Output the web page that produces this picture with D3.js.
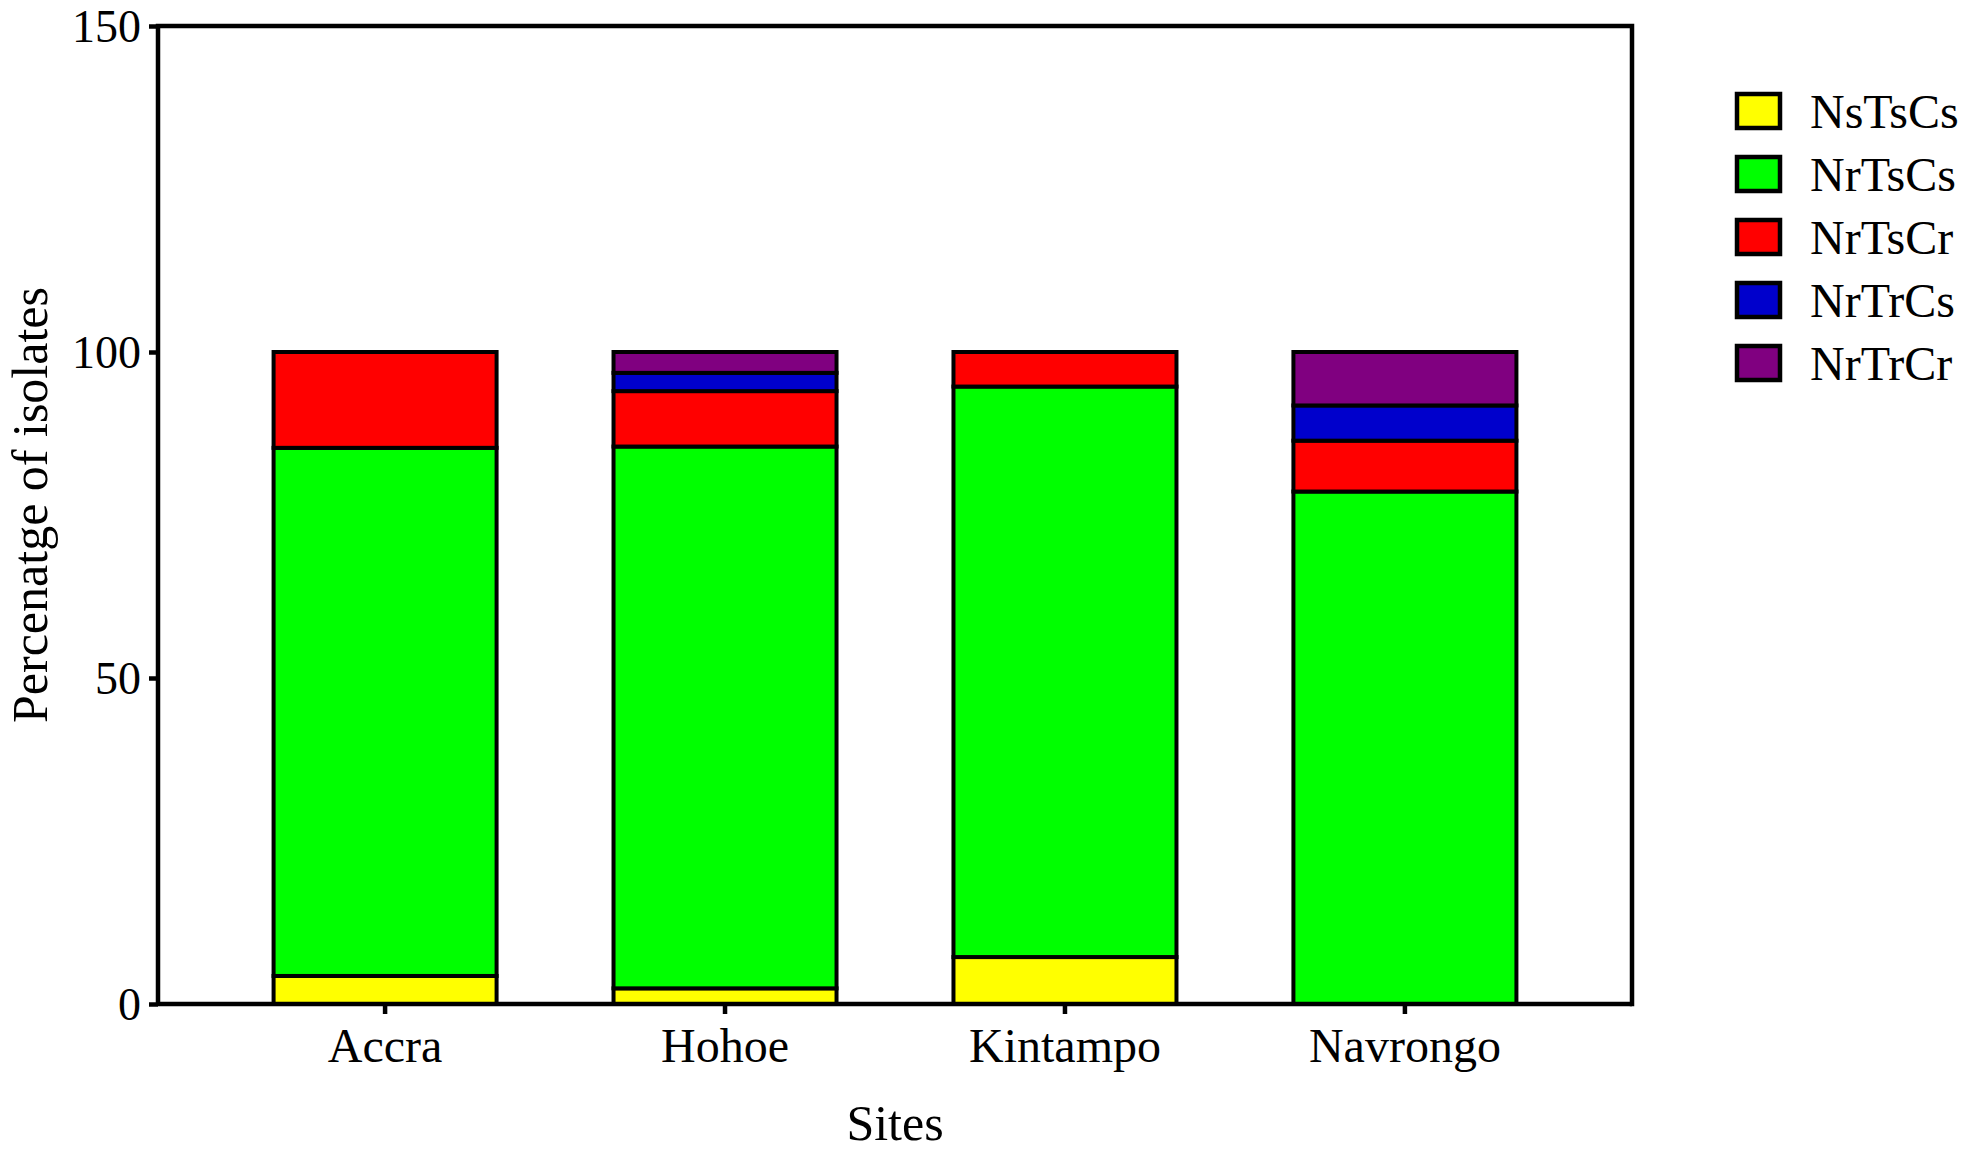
<!DOCTYPE html>
<html>
<head>
<meta charset="utf-8">
<script src="https://cdn.jsdelivr.net/npm/d3@7"></script>
<style>
  html, body { margin: 0; padding: 0; background: #fff; }
  svg { display: block; }
  text { font-family: "Liberation Serif", "Times New Roman", serif; fill: #000; }
</style>
</head>
<body>
<svg id="chart" width="1969" height="1154"></svg>
<script>
const sites = ["Accra", "Hohoe", "Kintampo", "Navrongo"];
const seriesNames = ["NsTsCs", "NrTsCs", "NrTsCr", "NrTrCs", "NrTrCr"];
const NsTsCs = [4.3, 2.4, 7.2, 0];
const NrTsCs = [81.0, 83.1, 87.5, 78.6];
const NrTsCr = [14.7, 8.5, 5.3, 7.8];
const NrTrCs = [0, 2.8, 0, 5.4];
const NrTrCr = [0, 3.2, 0, 8.2];
const colors = ["#ffff00", "#00ff00", "#ff0000", "#0000cc", "#800080"];
const yTicks = [0, 50, 100, 150];

const seriesValues = [NsTsCs, NrTsCs, NrTsCr, NrTrCs, NrTrCr];
const table = sites.map((s, i) => {
  const row = { site: s };
  seriesNames.forEach((n, k) => row[n] = seriesValues[k][i]);
  return row;
});

const svg = d3.select("#chart");
const m = { left: 158, right: 1632, top: 26, bottom: 1004 };

const x = d3.scaleBand().domain(sites).range([m.left, m.right])
  .paddingInner(0.344).paddingOuter(0.34);
const y = d3.scaleLinear().domain([0, 150]).range([m.bottom, m.top]);
const color = d3.scaleOrdinal().domain(seriesNames).range(colors);

const stack = d3.stack().keys(seriesNames)(table);

// bars
const g = svg.append("g");
stack.forEach(layer => {
  g.append("g").selectAll("rect")
    .data(layer.filter(d => d[1] - d[0] > 0))
    .join("rect")
    .attr("x", d => x(d.data.site))
    .attr("width", x.bandwidth())
    .attr("y", d => y(d[1]))
    .attr("height", d => y(d[0]) - y(d[1]))
    .attr("fill", color(layer.key))
    .attr("stroke", "#000")
    .attr("stroke-width", 4);
});

// frame (top and right)
svg.append("path")
  .attr("d", `M${m.left},${m.top}H${m.right}V${m.bottom}`)
  .attr("fill", "none").attr("stroke", "#000").attr("stroke-width", 4.5)
  .attr("stroke-linecap", "square");

// y axis
const yAxis = svg.append("g")
  .attr("transform", `translate(${m.left},0)`)
  .call(d3.axisLeft(y).tickValues(yTicks).tickSize(9).tickPadding(8).tickFormat(d3.format("d")));
yAxis.select(".domain").attr("stroke-width", 4.5).attr("d", `M0,${m.top}V${m.bottom}`);
yAxis.selectAll(".tick line").attr("stroke-width", 4.5);
yAxis.selectAll(".tick text").attr("font-size", 46)
  .attr("font-family", "Liberation Serif, Times New Roman, serif").attr("dy", "0.34em");

// x axis
const xAxis = svg.append("g")
  .attr("transform", `translate(0,${m.bottom})`)
  .call(d3.axisBottom(x).tickSize(10).tickPadding(14));
xAxis.select(".domain").attr("stroke-width", 4.5).attr("d", `M${m.left},0H${m.right}`);
xAxis.selectAll(".tick line").attr("stroke-width", 4.5);
xAxis.selectAll(".tick text").attr("font-size", 48)
  .attr("font-family", "Liberation Serif, Times New Roman, serif");

// axis titles
svg.append("text")
  .attr("x", (m.left + m.right) / 2).attr("y", 1140)
  .attr("text-anchor", "middle").attr("font-size", 50).text("Sites");
svg.append("text")
  .attr("transform", `translate(47,505) rotate(-90)`)
  .attr("text-anchor", "middle").attr("font-size", 50).text("Percenatge of isolates");

// legend
const legend = svg.append("g");
seriesNames.forEach((n, i) => {
  const cy = 111 + i * 63;
  legend.append("rect")
    .attr("x", 1737).attr("y", cy - 17).attr("width", 43).attr("height", 34)
    .attr("fill", color(n)).attr("stroke", "#000").attr("stroke-width", 4.5);
  legend.append("text")
    .attr("x", 1810).attr("y", cy).attr("dy", "0.35em")
    .attr("font-size", 48).text(n);
});
</script>
</body>
</html>
